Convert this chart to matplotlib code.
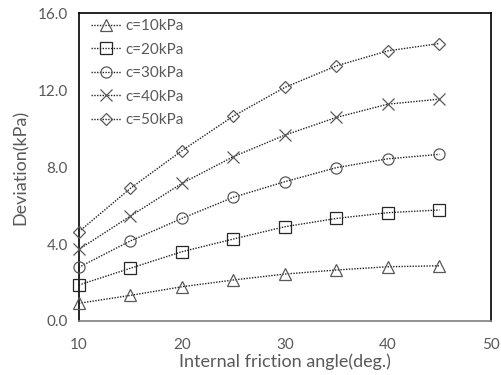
import matplotlib
matplotlib.use("Agg")
import matplotlib.pyplot as plt

# Data
angles = [10, 15, 20, 25, 30, 35, 40, 45]
dev_c10 = [0.92, 1.33, 1.78, 2.13, 2.44, 2.65, 2.82, 2.87]
dev_c20 = [1.87, 2.74, 3.60, 4.26, 4.90, 5.33, 5.63, 5.77]
dev_c30 = [2.79, 4.16, 5.33, 6.43, 7.24, 7.97, 8.43, 8.66]
dev_c40 = [3.72, 5.45, 7.15, 8.54, 9.66, 10.58, 11.27, 11.53]
dev_c50 = [4.64, 6.89, 8.85, 10.65, 12.14, 13.26, 14.04, 14.42]

labels = ["c=10kPa", "c=20kPa", "c=30kPa", "c=40kPa", "c=50kPa"]
x_ticks = [10, 20, 30, 40, 50]
y_ticks = [0, 4, 8, 12, 16]

plt.rcParams["font.family"] = ["Lato", "DejaVu Sans"]
gray = "#595959"

fig = plt.figure(figsize=(5.02, 3.75), dpi=100)
ax = fig.add_axes([0.157, 0.144, 0.821, 0.821])

series = [dev_c10, dev_c20, dev_c30, dev_c40, dev_c50]
markers = ["^", "s", "o", "x", "D"]
sizes = [8, 8, 8, 9, 6]
edge = [gray, "#262626", gray, gray, gray]

for vals, lab, m, ms, ec in zip(series, labels, markers, sizes, edge):
    ax.plot(angles, vals, linestyle=(0, (1, 1)), color="#222222", linewidth=1.0,
            marker=m, markersize=ms, markerfacecolor="none",
            markeredgecolor=ec, markeredgewidth=0.9, label=lab,
            clip_on=False, zorder=3)

ax.set_xlim(10, 50)
ax.set_ylim(0, 16)
ax.set_xticks(x_ticks)
ax.set_yticks(y_ticks)
ax.set_yticklabels([f"{v:.1f}" for v in y_ticks])
ax.tick_params(axis="y", length=0, labelsize=11, labelcolor=gray, pad=8)
ax.tick_params(axis="x", length=0, labelsize=11, labelcolor=gray, pad=12)

for side in ["top", "right", "left"]:
    ax.spines[side].set_color("black")
    ax.spines[side].set_linewidth(1.2)
ax.spines["bottom"].set_color("#7f7f7f")
ax.spines["bottom"].set_linewidth(1.2)

ax.set_xlabel("Internal friction angle(deg.)", fontsize=13, color=gray, labelpad=1)
ax.set_ylabel("Deviation(kPa)", fontsize=13, color=gray, labelpad=6)

leg = ax.legend(loc="upper left", bbox_to_anchor=(0.014, 1.0), frameon=False,
                fontsize=11, labelcolor=gray,
                handlelength=2.0, handletextpad=0.3, labelspacing=0.62,
                borderaxespad=0.1, borderpad=0.3)

fig.savefig("out.png", dpi=100)
